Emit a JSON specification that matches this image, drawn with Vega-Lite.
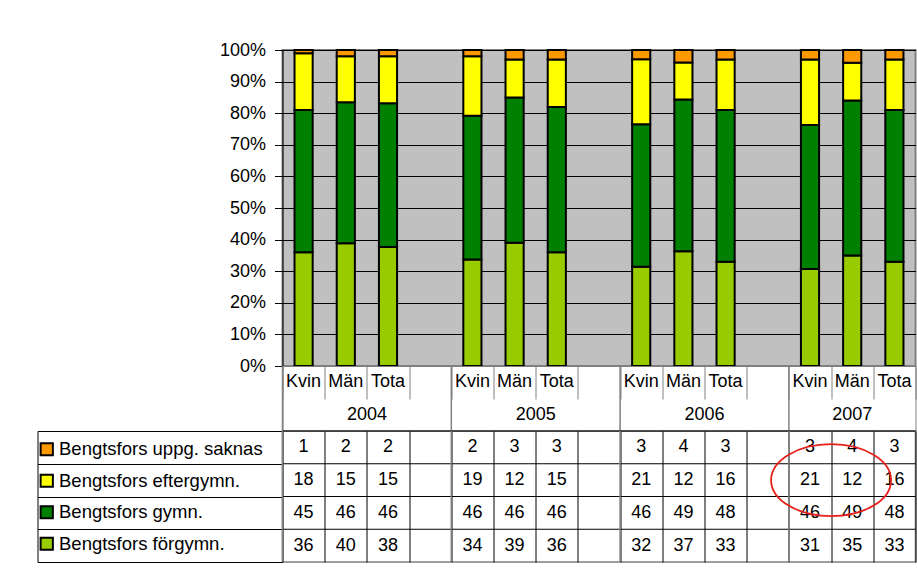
{
  "$schema": "https://vega.github.io/schema/vega-lite/v6.json",
  "padding": {"left": 35.5, "top": 40, "right": 0, "bottom": 0},
  "spacing": 0,
  "bounds": "flush",
  "config": {
    "font": "Liberation Sans",
    "axis": {"labelFont": "Liberation Sans", "labelColor": "black"},
    "view": {"stroke": "#808080"}
  },
  "datasets": {
    "cells": [
      {"slot": "2004|Kvinnor", "year": "2004", "sex": "Kvinnor", "series": "Bengtsfors förgymn.", "ord": 1, "value": 36},
      {"slot": "2004|Kvinnor", "year": "2004", "sex": "Kvinnor", "series": "Bengtsfors gymn.", "ord": 2, "value": 45},
      {"slot": "2004|Kvinnor", "year": "2004", "sex": "Kvinnor", "series": "Bengtsfors eftergymn.", "ord": 3, "value": 18},
      {"slot": "2004|Kvinnor", "year": "2004", "sex": "Kvinnor", "series": "Bengtsfors uppg. saknas", "ord": 4, "value": 1},
      {"slot": "2004|Män", "year": "2004", "sex": "Män", "series": "Bengtsfors förgymn.", "ord": 1, "value": 40},
      {"slot": "2004|Män", "year": "2004", "sex": "Män", "series": "Bengtsfors gymn.", "ord": 2, "value": 46},
      {"slot": "2004|Män", "year": "2004", "sex": "Män", "series": "Bengtsfors eftergymn.", "ord": 3, "value": 15},
      {"slot": "2004|Män", "year": "2004", "sex": "Män", "series": "Bengtsfors uppg. saknas", "ord": 4, "value": 2},
      {"slot": "2004|Totalt", "year": "2004", "sex": "Totalt", "series": "Bengtsfors förgymn.", "ord": 1, "value": 38},
      {"slot": "2004|Totalt", "year": "2004", "sex": "Totalt", "series": "Bengtsfors gymn.", "ord": 2, "value": 46},
      {"slot": "2004|Totalt", "year": "2004", "sex": "Totalt", "series": "Bengtsfors eftergymn.", "ord": 3, "value": 15},
      {"slot": "2004|Totalt", "year": "2004", "sex": "Totalt", "series": "Bengtsfors uppg. saknas", "ord": 4, "value": 2},
      {"slot": "2005|Kvinnor", "year": "2005", "sex": "Kvinnor", "series": "Bengtsfors förgymn.", "ord": 1, "value": 34},
      {"slot": "2005|Kvinnor", "year": "2005", "sex": "Kvinnor", "series": "Bengtsfors gymn.", "ord": 2, "value": 46},
      {"slot": "2005|Kvinnor", "year": "2005", "sex": "Kvinnor", "series": "Bengtsfors eftergymn.", "ord": 3, "value": 19},
      {"slot": "2005|Kvinnor", "year": "2005", "sex": "Kvinnor", "series": "Bengtsfors uppg. saknas", "ord": 4, "value": 2},
      {"slot": "2005|Män", "year": "2005", "sex": "Män", "series": "Bengtsfors förgymn.", "ord": 1, "value": 39},
      {"slot": "2005|Män", "year": "2005", "sex": "Män", "series": "Bengtsfors gymn.", "ord": 2, "value": 46},
      {"slot": "2005|Män", "year": "2005", "sex": "Män", "series": "Bengtsfors eftergymn.", "ord": 3, "value": 12},
      {"slot": "2005|Män", "year": "2005", "sex": "Män", "series": "Bengtsfors uppg. saknas", "ord": 4, "value": 3},
      {"slot": "2005|Totalt", "year": "2005", "sex": "Totalt", "series": "Bengtsfors förgymn.", "ord": 1, "value": 36},
      {"slot": "2005|Totalt", "year": "2005", "sex": "Totalt", "series": "Bengtsfors gymn.", "ord": 2, "value": 46},
      {"slot": "2005|Totalt", "year": "2005", "sex": "Totalt", "series": "Bengtsfors eftergymn.", "ord": 3, "value": 15},
      {"slot": "2005|Totalt", "year": "2005", "sex": "Totalt", "series": "Bengtsfors uppg. saknas", "ord": 4, "value": 3},
      {"slot": "2006|Kvinnor", "year": "2006", "sex": "Kvinnor", "series": "Bengtsfors förgymn.", "ord": 1, "value": 32},
      {"slot": "2006|Kvinnor", "year": "2006", "sex": "Kvinnor", "series": "Bengtsfors gymn.", "ord": 2, "value": 46},
      {"slot": "2006|Kvinnor", "year": "2006", "sex": "Kvinnor", "series": "Bengtsfors eftergymn.", "ord": 3, "value": 21},
      {"slot": "2006|Kvinnor", "year": "2006", "sex": "Kvinnor", "series": "Bengtsfors uppg. saknas", "ord": 4, "value": 3},
      {"slot": "2006|Män", "year": "2006", "sex": "Män", "series": "Bengtsfors förgymn.", "ord": 1, "value": 37},
      {"slot": "2006|Män", "year": "2006", "sex": "Män", "series": "Bengtsfors gymn.", "ord": 2, "value": 49},
      {"slot": "2006|Män", "year": "2006", "sex": "Män", "series": "Bengtsfors eftergymn.", "ord": 3, "value": 12},
      {"slot": "2006|Män", "year": "2006", "sex": "Män", "series": "Bengtsfors uppg. saknas", "ord": 4, "value": 4},
      {"slot": "2006|Totalt", "year": "2006", "sex": "Totalt", "series": "Bengtsfors förgymn.", "ord": 1, "value": 33},
      {"slot": "2006|Totalt", "year": "2006", "sex": "Totalt", "series": "Bengtsfors gymn.", "ord": 2, "value": 48},
      {"slot": "2006|Totalt", "year": "2006", "sex": "Totalt", "series": "Bengtsfors eftergymn.", "ord": 3, "value": 16},
      {"slot": "2006|Totalt", "year": "2006", "sex": "Totalt", "series": "Bengtsfors uppg. saknas", "ord": 4, "value": 3},
      {"slot": "2007|Kvinnor", "year": "2007", "sex": "Kvinnor", "series": "Bengtsfors förgymn.", "ord": 1, "value": 31},
      {"slot": "2007|Kvinnor", "year": "2007", "sex": "Kvinnor", "series": "Bengtsfors gymn.", "ord": 2, "value": 46},
      {"slot": "2007|Kvinnor", "year": "2007", "sex": "Kvinnor", "series": "Bengtsfors eftergymn.", "ord": 3, "value": 21},
      {"slot": "2007|Kvinnor", "year": "2007", "sex": "Kvinnor", "series": "Bengtsfors uppg. saknas", "ord": 4, "value": 3},
      {"slot": "2007|Män", "year": "2007", "sex": "Män", "series": "Bengtsfors förgymn.", "ord": 1, "value": 35},
      {"slot": "2007|Män", "year": "2007", "sex": "Män", "series": "Bengtsfors gymn.", "ord": 2, "value": 49},
      {"slot": "2007|Män", "year": "2007", "sex": "Män", "series": "Bengtsfors eftergymn.", "ord": 3, "value": 12},
      {"slot": "2007|Män", "year": "2007", "sex": "Män", "series": "Bengtsfors uppg. saknas", "ord": 4, "value": 4},
      {"slot": "2007|Totalt", "year": "2007", "sex": "Totalt", "series": "Bengtsfors förgymn.", "ord": 1, "value": 33},
      {"slot": "2007|Totalt", "year": "2007", "sex": "Totalt", "series": "Bengtsfors gymn.", "ord": 2, "value": 48},
      {"slot": "2007|Totalt", "year": "2007", "sex": "Totalt", "series": "Bengtsfors eftergymn.", "ord": 3, "value": 16},
      {"slot": "2007|Totalt", "year": "2007", "sex": "Totalt", "series": "Bengtsfors uppg. saknas", "ord": 4, "value": 3}
    ],
    "years": [
      {"year": "2004", "start": "2004|Kvinnor", "anchor": "2004|Totalt"},
      {"year": "2005", "start": "2005|Kvinnor", "anchor": "2005|Totalt"},
      {"year": "2006", "start": "2006|Kvinnor", "anchor": "2006|Totalt"},
      {"year": "2007", "start": "2007|Kvinnor", "anchor": "2007|Män"}
    ],
    "note": [
      {"slot": "2007|Män", "series": "Bengtsfors eftergymn."}
    ]
  },
  "vconcat": [
    {
      "width": 633,
      "height": 316,
      "data": {"name": "cells"},
      "view": {"fill": "#C0C0C0", "stroke": "#808080", "strokeWidth": 2},
      "mark": {"type": "bar", "width": {"band": 0.43}, "stroke": "black", "strokeWidth": 2},
      "encoding": {
        "x": {
          "field": "slot", "type": "nominal",
          "scale": {"type": "band", "domain": ["2004|Kvinnor","2004|Män","2004|Totalt","2004|","2005|Kvinnor","2005|Män","2005|Totalt","2005|","2006|Kvinnor","2006|Män","2006|Totalt","2006|","2007|Kvinnor","2007|Män","2007|Totalt"], "paddingInner": 0, "paddingOuter": 0},
          "axis": null
        },
        "y": {
          "field": "value", "type": "quantitative", "stack": "normalize",
          "scale": {"domain": [0, 1], "nice": false},
          "axis": {
            "title": null, "values": [0,0.1,0.2,0.3,0.4,0.5,0.6,0.7,0.8,0.9,1], "format": ".0%",
            "grid": true, "gridColor": "black", "gridWidth": 1, "gridOpacity": 1,
            "tickColor": "black", "tickSize": 8, "domainColor": "black",
            "labelFontSize": 18, "labelPadding": 9
          }
        },
        "color": {
          "field": "series", "type": "nominal",
          "scale": {
            "domain": ["Bengtsfors uppg. saknas", "Bengtsfors eftergymn.", "Bengtsfors gymn.", "Bengtsfors förgymn."],
            "range": ["#FF9900", "#FFFF00", "#008000", "#99CC00"]
          },
          "legend": {
            "orient": "none", "legendX": -245, "legendY": 390, "title": null,
            "symbolType": "square", "symbolSize": 150, "symbolStrokeColor": "black", "symbolStrokeWidth": 2,
            "labelFontSize": 18.5, "labelFont": "Liberation Sans", "labelColor": "black", "labelOffset": 3,
            "rowPadding": 10.5, "labelLimit": 400
          }
        },
        "order": {"field": "ord", "type": "quantitative"}
      }
    },
    {
      "width": 633,
      "height": 65,
      "view": {"stroke": "#808080"},
      "layer": [
        {
          "data": {"name": "cells"},
          "transform": [{"filter": "datum.ord == 1"}],
          "mark": {"type": "text", "fontSize": 18, "limit": 37, "ellipsis": "\u200b", "color": "black"},
          "encoding": {
            "x": {
              "field": "slot", "type": "nominal",
              "scale": {"type": "band", "domain": ["2004|Kvinnor","2004|Män","2004|Totalt","2004|","2005|Kvinnor","2005|Män","2005|Totalt","2005|","2006|Kvinnor","2006|Män","2006|Totalt","2006|","2007|Kvinnor","2007|Män","2007|Totalt"], "paddingInner": 0, "paddingOuter": 0},
              "axis": {"orient": "top", "title": null, "labels": false, "domain": false, "grid": false, "ticks": true, "tickBand": "extent", "tickSize": -33, "tickColor": "#808080"}
            },
            "y": {"datum": "cat", "type": "nominal", "scale": {"type": "band", "domain": ["cat", "year"], "paddingInner": 0, "paddingOuter": 0}, "axis": null},
            "text": {"field": "sex"}
          }
        },
        {
          "data": {"name": "years"},
          "transform": [{"filter": "datum.year != '2007'"}],
          "mark": {"type": "text", "fontSize": 18, "color": "black"},
          "encoding": {
            "x": {"field": "anchor", "type": "nominal", "bandPosition": 0},
            "y": {"datum": "year", "type": "nominal"},
            "text": {"field": "year"}
          }
        },
        {
          "data": {"name": "years"},
          "transform": [{"filter": "datum.year == '2007'"}],
          "mark": {"type": "text", "fontSize": 18, "color": "black"},
          "encoding": {
            "x": {"field": "anchor", "type": "nominal"},
            "y": {"datum": "year", "type": "nominal"},
            "text": {"field": "year"}
          }
        },
        {
          "data": {"name": "years"},
          "mark": {"type": "rule", "color": "#808080", "strokeWidth": 1.5},
          "encoding": {
            "x": {"field": "start", "type": "nominal", "bandPosition": 0}
          }
        }
      ]
    },
    {
      "width": 633,
      "height": 131,
      "view": {"stroke": "#808080", "strokeWidth": 1.5},
      "layer": [
        {
          "data": {"name": "cells"},
          "mark": {"type": "text", "fontSize": 18, "color": "black"},
          "encoding": {
            "x": {
              "field": "slot", "type": "nominal",
              "scale": {"type": "band", "domain": ["2004|Kvinnor","2004|Män","2004|Totalt","2004|","2005|Kvinnor","2005|Män","2005|Totalt","2005|","2006|Kvinnor","2006|Män","2006|Totalt","2006|","2007|Kvinnor","2007|Män","2007|Totalt"], "paddingInner": 0, "paddingOuter": 0},
              "axis": {"title": null, "labels": false, "ticks": false, "domain": false, "grid": true, "tickBand": "extent", "gridColor": "black", "gridOpacity": 1}
            },
            "y": {
              "field": "series", "type": "nominal",
              "scale": {"type": "band", "domain": ["Bengtsfors uppg. saknas", "Bengtsfors eftergymn.", "Bengtsfors gymn.", "Bengtsfors förgymn."], "paddingInner": 0, "paddingOuter": 0},
              "axis": {"orient": "left", "offset": 245, "title": null, "labels": false, "grid": false, "ticks": true, "tickBand": "extent", "tickSize": -245, "tickColor": "black", "domain": true, "domainColor": "black"}
            },
            "text": {"field": "value"}
          }
        },
        {
          "data": {"name": "cells"},
          "transform": [{"filter": "datum.slot == '2004|Kvinnor'"}],
          "mark": {"type": "rule", "color": "black"},
          "encoding": {
            "y": {"field": "series", "type": "nominal", "bandPosition": 0}
          }
        },
        {
          "data": {"name": "years"},
          "mark": {"type": "rule", "color": "#808080", "strokeWidth": 1.5},
          "encoding": {
            "x": {"field": "start", "type": "nominal", "bandPosition": 0}
          }
        },
        {
          "data": {"name": "note"},
          "mark": {"type": "point", "shape": "M-1,0A1,0.6,0,1,1,1,0A1,0.6,0,1,1,-1,0Z", "size": 14400, "filled": false, "stroke": "#E8201C", "strokeWidth": 1.8, "opacity": 1},
          "encoding": {
            "x": {"field": "slot", "type": "nominal", "bandPosition": 0},
            "y": {"field": "series", "type": "nominal"}
          }
        }
      ]
    }
  ]
}
